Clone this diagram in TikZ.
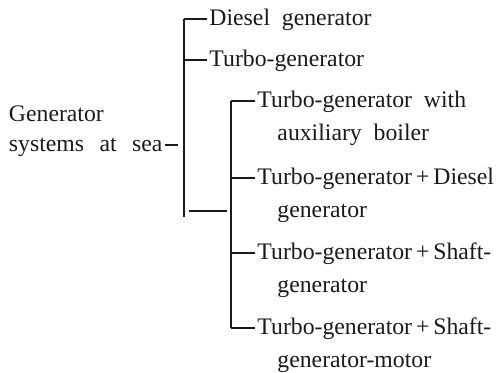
\documentclass[tikz,border=0pt]{standalone}
\usepackage{fontspec}
\setmainfont{Liberation Serif}
\usepackage{tikz}
\usetikzlibrary{positioning,calc}
\definecolor{SeaInk}{HTML}{1A1A1A}
\tikzset{
  figlabel/.style={font={\fontsize{13.5}{16}\selectfont\spaceskip=0.5em plus 0.1em\relax}, text=SeaInk, inner xsep=1.5pt, inner ysep=0pt, text height=12.5pt, text depth=4.6pt, anchor=west},
  figroot/.style={figlabel, font={\fontsize{13.5}{16}\selectfont\spaceskip=0.65em plus 0.1em\relax}},
  figbracket/.style={line width=0.7pt, draw=SeaInk},
  figstub/.style={line width=0.7pt, draw=SeaInk}
}

\begin{document}
\begin{tikzpicture}
\useasboundingbox (0,0) rectangle (10.08,7.44);
% root
\node[figroot] (rootA) at (0.12,5.14) {Generator};
\node[figroot] (rootB) at (0.12,4.54) {systems at sea};
\coordinate (rootEnd) at (3.56,4.54);
\draw[figstub] (rootB.east) -- (rootEnd);
% outer bracket
\coordinate (outTop) at (3.68,7.06);
\coordinate (outTurbo) at (3.68,6.24);
\coordinate (outLink) at (3.68,3.22);
\coordinate (outBot) at (3.68,3.10);
\draw[figbracket] (outTop) -- (outBot);
\node[figlabel] (diesel) at (4.13,7.06) {Diesel generator};
\node[figlabel] (turbo) at (4.13,6.24) {Turbo-generator};
\draw[figstub] (outTop) -- (diesel.west);
\draw[figstub] (outTurbo) -- (turbo.west);
% inner bracket
\coordinate (inTop) at (4.62,5.42);
\coordinate (inLink) at (4.62,3.22);
\coordinate (inDiesel) at (4.62,3.88);
\coordinate (inShaft) at (4.62,2.38);
\coordinate (inBot) at (4.62,0.88);
\draw[figbracket] (inTop) -- (inBot);
\draw[figstub, shorten <=0.1cm, shorten >=0.08cm] (outLink) -- (inLink);
\node[figlabel] (boilTop) at (5.09,5.42) {Turbo-generator with};
\node[figlabel] (boilSub) at ([xshift=0.40cm, yshift=-0.66cm]boilTop.west) {auxiliary boiler};
\node[figlabel] (dieselTop) at (5.09,3.88) {Turbo-generator\,+\,Diesel};
\node[figlabel] (dieselSub) at ([xshift=0.40cm, yshift=-0.66cm]dieselTop.west) {generator};
\node[figlabel] (shaftTop) at (5.09,2.38) {Turbo-generator\,+\,Shaft-};
\node[figlabel] (shaftSub) at ([xshift=0.40cm, yshift=-0.66cm]shaftTop.west) {generator};
\node[figlabel] (motorTop) at (5.09,0.88) {Turbo-generator\,+\,Shaft-};
\node[figlabel] (motorSub) at ([xshift=0.40cm, yshift=-0.66cm]motorTop.west) {generator-motor};
\draw[figstub] (inTop) -- (boilTop.west);
\draw[figstub] (inDiesel) -- (dieselTop.west);
\draw[figstub] (inShaft) -- (shaftTop.west);
\draw[figstub] (inBot) -- (motorTop.west);
\end{tikzpicture}
\end{document}
